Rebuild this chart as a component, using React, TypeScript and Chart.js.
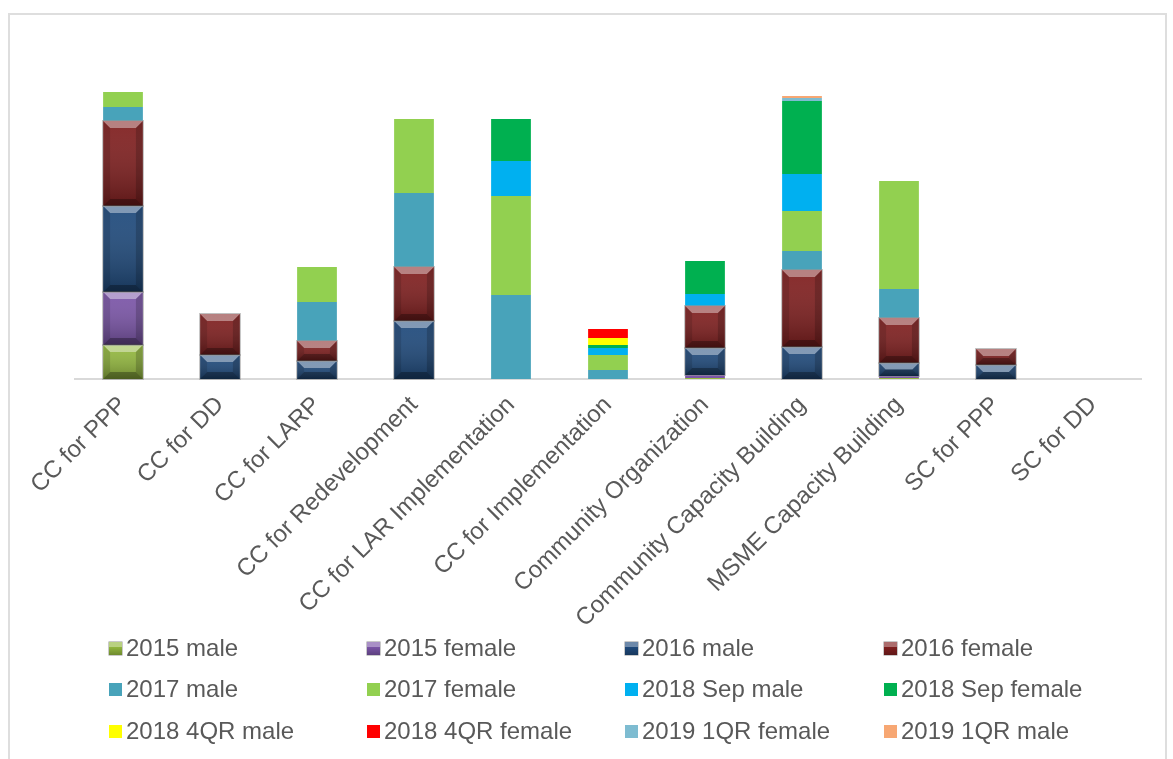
import React, { useEffect, useRef } from "react";
import { Chart, registerables } from "chart.js";

Chart.register(...registerables);

const categories = [
  "CC for PPP",
  "CC for DD",
  "CC for LARP",
  "CC for Redevelopment",
  "CC for LAR Implementation",
  "CC for Implementation",
  "Community Organization",
  "Community Capacity Building",
  "MSME Capacity Building",
  "SC for PPP",
  "SC for DD",
];

const male2015 = [34, 0, 0, 0, 0, 0, 1, 0, 1, 0, 0];
const female2015 = [53, 0, 0, 0, 0, 0, 3, 0, 2, 0, 0];
const male2016 = [86, 24, 18, 58, 0, 0, 27, 32, 13, 14, 0];
const female2016 = [85, 41, 20, 54, 0, 0, 42, 77, 45, 16, 0];
const male2017 = [14, 0, 39, 74, 84, 9, 0, 19, 29, 0, 0];
const female2017 = [15, 0, 35, 74, 99, 15, 0, 40, 108, 0, 0];
const sepMale2018 = [0, 0, 0, 0, 35, 7, 12, 37, 0, 0, 0];
const sepFemale2018 = [0, 0, 0, 0, 42, 3, 33, 73, 0, 0, 0];
const q4Male2018 = [0, 0, 0, 0, 0, 7, 0, 0, 0, 0, 0];
const q4Female2018 = [0, 0, 0, 0, 0, 9, 0, 0, 0, 0, 0];
const q1Female2019 = [0, 0, 0, 0, 0, 0, 0, 3, 0, 0, 0];
const q1Male2019 = [0, 0, 0, 0, 0, 0, 0, 2, 0, 0, 0];

const seriesNames = [
  "2015 male",
  "2015 female",
  "2016 male",
  "2016 female",
  "2017 male",
  "2017 female",
  "2018 Sep male",
  "2018 Sep female",
  "2018 4QR male",
  "2018 4QR female",
  "2019 1QR female",
  "2019 1QR male",
];
const seriesData = [
  male2015,
  female2015,
  male2016,
  female2016,
  male2017,
  female2017,
  sepMale2018,
  sepFemale2018,
  q4Male2018,
  q4Female2018,
  q1Female2019,
  q1Male2019,
];
const seriesColors = [
  "#93b83e",
  "#7b55a8",
  "#1f4a7c",
  "#801f1f",
  "#48a3ba",
  "#92d050",
  "#00b0f0",
  "#00b050",
  "#ffff00",
  "#ff0000",
  "#7ebcd1",
  "#f7a773",
];
const bevelSeries = [0, 1, 2, 3];

const FONT = "'Liberation Sans', Arial, 'DejaVu Sans', sans-serif";

const bevelPlugin = {
  id: "bevel",
  afterDatasetsDraw(chart: any) {
    const ctx = chart.ctx;
    bevelSeries.forEach((di) => {
      const meta = chart.getDatasetMeta(di);
      meta.data.forEach((el: any) => {
        const { x, y, base, width } = el.getProps(["x", "y", "base", "width"], true);
        const h = base - y;
        if (h < 6) return;
        const L = x - width / 2;
        const R = x + width / 2;
        const T = y;
        const B = base;
        const b = Math.min(7, h / 2);
        ctx.save();
        const g = ctx.createLinearGradient(0, T, 0, B);
        g.addColorStop(0, "rgba(255,255,255,0.06)");
        g.addColorStop(1, "rgba(0,0,0,0.28)");
        ctx.fillStyle = g;
        ctx.fillRect(L, T, width, h);
        const poly = (pts: number[][], fill: string) => {
          ctx.beginPath();
          ctx.moveTo(pts[0][0], pts[0][1]);
          for (let i = 1; i < pts.length; i++) ctx.lineTo(pts[i][0], pts[i][1]);
          ctx.closePath();
          ctx.fillStyle = fill;
          ctx.fill();
        };
        poly([[L, T], [R, T], [R - b, T + b], [L + b, T + b]], "rgba(255,255,255,0.4)");
        poly([[L, T], [L + b, T + b], [L + b, B - b], [L, B]], "rgba(0,0,0,0.12)");
        poly([[R, T], [R - b, T + b], [R - b, B - b], [R, B]], "rgba(0,0,0,0.18)");
        poly([[L, B], [L + b, B - b], [R - b, B - b], [R, B]], "rgba(0,0,0,0.3)");
        ctx.strokeStyle = "rgba(150,150,150,0.6)";
        ctx.lineWidth = 1;
        ctx.strokeRect(L - 0.5, T - 0.5, width + 1, h + 1);
        ctx.restore();
      });
    });
  },
};

const legendCols = [109, 367, 625, 884];
const legendRows = [648, 689, 731];

export default function App() {
  const canvasRef = useRef<HTMLCanvasElement | null>(null);

  useEffect(() => {
    if (!canvasRef.current) return;
    const chart = new Chart(canvasRef.current, {
      type: "bar",
      data: {
        labels: categories,
        datasets: seriesData.map((d, i) => ({
          label: seriesNames[i],
          data: d,
          backgroundColor: seriesColors[i],
          borderWidth: 0,
          categoryPercentage: 1,
          barPercentage: 0.41,
        })),
      },
      options: {
        animation: false,
        responsive: false,
        devicePixelRatio: 1,
        layout: { padding: { left: 74.5, right: 31.5, top: 79, bottom: 130 } },
        plugins: {
          legend: { display: false },
          tooltip: { enabled: false },
          title: { display: false },
        },
        scales: {
          x: {
            stacked: true,
            grid: { display: false },
            border: { display: true, color: "#d9d9d9", width: 2 },
            ticks: {
              minRotation: 45,
              maxRotation: 45,
              autoSkip: false,
              padding: 4,
              color: "#595959",
              font: { family: FONT, size: 24 },
            },
            afterFit: (scale: any) => {
              scale.height = 250;
            },
          },
          y: {
            stacked: true,
            display: false,
            min: 0,
            max: 300,
          },
        },
      },
      plugins: [bevelPlugin],
    });
    return () => chart.destroy();
  }, []);

  return (
    <div
      style={{
        position: "fixed",
        left: 0,
        top: 0,
        width: 1173,
        height: 759,
        background: "#ffffff",
        overflow: "hidden",
        fontFamily: FONT,
      }}
    >
      <div
        style={{
          position: "absolute",
          left: 8,
          top: 13,
          width: 1155,
          height: 800,
          border: "2px solid #dedede",
        }}
      />
      <canvas
        ref={canvasRef}
        width={1173}
        height={759}
        style={{ position: "absolute", left: 0, top: 0, display: "block" }}
      />
      {seriesNames.map((name, i) => {
        const col = i % 4;
        const row = Math.floor(i / 4);
        const bevel = bevelSeries.includes(i);
        return (
          <div
            key={name}
            style={{
              position: "absolute",
              left: legendCols[col],
              top: legendRows[row] - 14,
              height: 28,
              display: "flex",
              alignItems: "center",
              whiteSpace: "nowrap",
            }}
          >
            <span
              style={{
                display: "inline-block",
                width: 13,
                height: 13,
                background: bevel
                  ? `linear-gradient(180deg, rgba(255,255,255,0.35) 0%, rgba(255,255,255,0.35) 35%, rgba(0,0,0,0) 36%, rgba(0,0,0,0.25) 100%), ${seriesColors[i]}`
                  : seriesColors[i],
                boxShadow: bevel ? "0 0 0 0.5px rgba(120,120,120,0.8)" : "none",
                marginRight: 4,
              }}
            />
            <span style={{ fontSize: 24, color: "#595959", lineHeight: "28px" }}>{name}</span>
          </div>
        );
      })}
    </div>
  );
}
